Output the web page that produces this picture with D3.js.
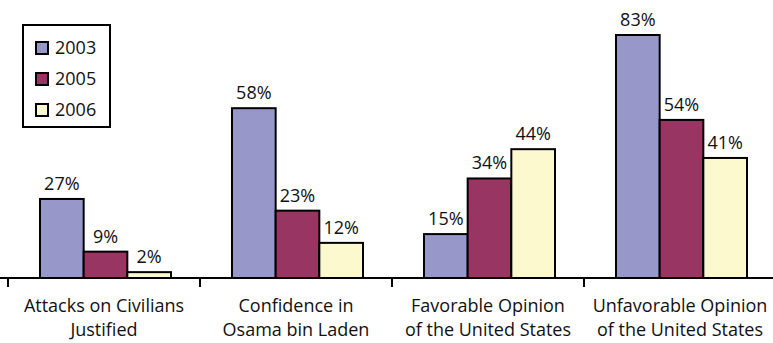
<!DOCTYPE html>
<html>
<head>
<meta charset="utf-8">
<script src="https://cdn.jsdelivr.net/npm/d3@7"></script>
<style>
  body { margin: 0; background: #fff; }
  text { font-family: "Open Sans", sans-serif; fill: #111; }
</style>
</head>
<body>
<script>
// categories, two lines each
const categories = [
    ["Attacks on Civilians", "Justified"],
    ["Confidence in", "Osama bin Laden"],
    ["Favorable Opinion", "of the United States"],
    ["Unfavorable Opinion", "of the United States"]
];
const years = ["2003", "2005", "2006"];
const values2003 = [27, 58, 15, 83];
const values2005 = [9, 23, 34, 54];
const values2006 = [2, 12, 44, 41];
const colors = ["#9797ca", "#983563", "#fcf9cf"];

const width = 773, height = 343;
const baseY = 278;

const svg = d3.select("body").append("svg")
    .attr("width", width)
    .attr("height", height);

const data = categories.map((c, i) => ({
    cat: i,
    vals: [values2003[i], values2005[i], values2006[i]]
}));

// XScale
const xScale = d3.scaleBand()
    .domain(d3.range(categories.length))
    .range([8, 776]);

const xInner = d3.scaleBand()
    .domain(years)
    .range([32, 32 + 131]);

// YScale
const yScale = d3.scaleLinear()
    .domain([0, 83])
    .range([baseY, 35]);

// Bars
const groups = svg.selectAll(".group")
    .data(data)
    .enter().append("g")
    .attr("transform", d => "translate(" + xScale(d.cat) + ",0)");

groups.selectAll("rect")
    .data(d => d.vals.map((v, j) => ({year: years[j], value: v, j: j})))
    .enter().append("rect")
    .attr("x", d => xInner(d.year))
    .attr("width", xInner.bandwidth())
    .attr("y", d => yScale(d.value))
    .attr("height", d => baseY - yScale(d.value))
    .attr("fill", d => colors[d.j])
    .attr("stroke", "#000")
    .attr("stroke-width", 2);

groups.selectAll(".val")
    .data(d => d.vals.map((v, j) => ({year: years[j], value: v})))
    .enter().append("text")
    .attr("x", d => xInner(d.year) + xInner.bandwidth() / 2)
    .attr("y", d => yScale(d.value) - 9)
    .attr("text-anchor", "middle")
    .style("font-size", "18px")
    .text(d => d.value + "%");

// X axis
svg.append("line")
    .attr("x1", 0).attr("x2", width)
    .attr("y1", baseY).attr("y2", baseY)
    .attr("stroke", "#000").attr("stroke-width", 2);

svg.selectAll(".tick")
    .data(d3.range(categories.length + 1))
    .enter().append("line")
    .attr("x1", i => 8 + i * xScale.bandwidth())
    .attr("x2", i => 8 + i * xScale.bandwidth())
    .attr("y1", baseY).attr("y2", baseY + 9)
    .attr("stroke", "#000").attr("stroke-width", 2);

const labels = svg.selectAll(".cat")
    .data(categories)
    .enter().append("text")
    .attr("text-anchor", "middle")
    .style("font-size", "18px");

labels.selectAll("tspan")
    .data((d, i) => d.map(line => ({line: line, i: i})))
    .enter().append("tspan")
    .attr("x", d => xScale(d.i) + xScale.bandwidth() / 2)
    .attr("y", (d, k) => 312 + k * 24)
    .text(d => d.line);

// Legend
svg.append("rect")
    .attr("x", 23).attr("y", 25)
    .attr("width", 87).attr("height", 102)
    .attr("fill", "#fff")
    .attr("stroke", "#000").attr("stroke-width", 2);

const legend = svg.selectAll(".legend")
    .data(years)
    .enter().append("g")
    .attr("transform", (d, i) => "translate(35," + (48 + i * 31) + ")");

legend.append("rect")
    .attr("x", 1).attr("y", -6)
    .attr("width", 12).attr("height", 12)
    .attr("fill", (d, i) => colors[i])
    .attr("stroke", "#000").attr("stroke-width", 2);

legend.append("text")
    .attr("x", 20).attr("y", 6)
    .style("font-size", "18px")
    .text(d => d);
</script>
</body>
</html>
